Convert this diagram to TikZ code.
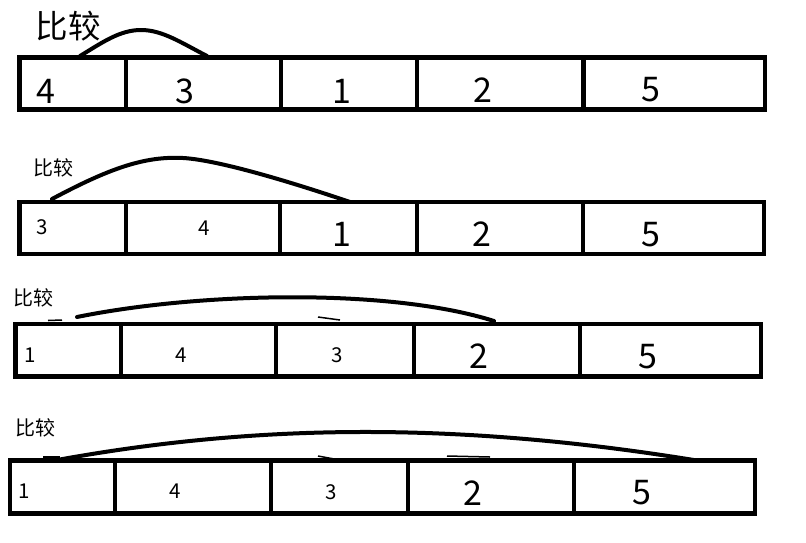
\documentclass[tikz,border=0pt]{standalone}
\usepackage{fontspec}
\newfontfamily\cjkfont{Noto Sans CJK SC}
\usetikzlibrary{positioning}

\begin{document}
\begin{tikzpicture}[
    x=1pt, y=-1pt,
    cell/.style={rectangle, draw=black, line width=4.5pt, inner sep=0pt, outer sep=0pt},
    bignum/.style={inner sep=0pt, font=\cjkfont\fontsize{34}{36}\selectfont},
    smallnum/.style={inner sep=0pt, font=\cjkfont\fontsize{20.5}{22}\selectfont},
    bigcmp/.style={inner sep=0pt, font=\cjkfont\fontsize{32.5}{34}\selectfont},
    smallcmp/.style={inner sep=0pt, font=\cjkfont\fontsize{20}{22}\selectfont},
    arc/.style={line width=4pt, line cap=round},
    stub/.style={line width=1.5pt}
]
\useasboundingbox (0,0) rectangle (806,542);

% row 1
\node[cell, minimum width=106.5pt, minimum height=52pt, anchor=west] (r1c1) at (19.5,83.5) {};
\node[cell, minimum width=155pt, minimum height=52pt, right=0pt of r1c1] (r1c2) {};
\node[cell, minimum width=136pt, minimum height=52pt, right=0pt of r1c2] (r1c3) {};
\node[cell, minimum width=166.5pt, minimum height=52pt, right=0pt of r1c3] (r1c4) {};
\node[cell, minimum width=181.5pt, minimum height=52pt, right=0pt of r1c4] (r1c5) {};
\node[bignum] (r1n1) at (46,91) {4};
\node[bignum] (r1n2) at (185,91) {3};
\node[bignum] (r1n3) at (342,91) {1};
\node[bignum] (r1n4) at (482.5,90) {2};
\node[bignum] (r1n5) at (651,90) {5};
\node[bigcmp] (cmp1) at (68,26) {比较};
\coordinate (a1s) at (80,56);
\coordinate (a1t) at (141,30);
\coordinate (a1e) at (207,56);
\draw[arc] (a1s) .. controls (103,42) and (120,30) .. (a1t)
    .. controls (162,30) and (180,42) .. (a1e);

% row 2
\node[cell, minimum width=106.5pt, minimum height=52pt, anchor=west] (r2c1) at (19.5,228) {};
\node[cell, minimum width=154pt, minimum height=52pt, right=0pt of r2c1] (r2c2) {};
\node[cell, minimum width=137pt, minimum height=52pt, right=0pt of r2c2] (r2c3) {};
\node[cell, minimum width=166pt, minimum height=52pt, right=0pt of r2c3] (r2c4) {};
\node[cell, minimum width=181pt, minimum height=52pt, right=0pt of r2c4] (r2c5) {};
\node[smallnum] (r2n1) at (42,227.5) {3};
\node[smallnum] (r2n2) at (204,228) {4};
\node[bignum] (r2n3) at (342,234.5) {1};
\node[bignum] (r2n4) at (482,234.5) {2};
\node[bignum] (r2n5) at (651,235) {5};
\node[smallcmp] (cmp2) at (54,167.5) {比较};
\coordinate (a2s) at (52,199);
\coordinate (a2t) at (183,158);
\coordinate (a2e) at (350,202);
\draw[arc] (a2s) .. controls (110,168) and (145,156) .. (a2t)
    .. controls (220,160) and (300,185) .. (a2e);

% row 3
\node[cell, minimum width=105.5pt, minimum height=52.5pt, anchor=west] (r3c1) at (15.5,350.25) {};
\node[cell, minimum width=155pt, minimum height=52.5pt, right=0pt of r3c1] (r3c2) {};
\node[cell, minimum width=138pt, minimum height=52.5pt, right=0pt of r3c2] (r3c3) {};
\node[cell, minimum width=166pt, minimum height=52.5pt, right=0pt of r3c3] (r3c4) {};
\node[cell, minimum width=181pt, minimum height=52.5pt, right=0pt of r3c4] (r3c5) {};
\node[smallnum] (r3n1) at (30,355) {1};
\node[smallnum] (r3n2) at (181,355) {4};
\node[smallnum] (r3n3) at (337.5,355) {3};
\node[bignum] (r3n4) at (479,356) {2};
\node[bignum] (r3n5) at (647.5,357) {5};
\node[smallcmp] (cmp3) at (33.5,297.5) {比较};
\coordinate (a3s) at (77,317);
\coordinate (a3e) at (494,321);
\draw[arc] (a3s) .. controls (200,292) and (390,288) .. (a3e);
\draw[stub] (48,320.5) -- (62,320);
\draw[stub] (318,317) -- (340,320);

% row 4
\node[cell, minimum width=105pt, minimum height=53pt, anchor=west] (r4c1) at (10,487) {};
\node[cell, minimum width=156pt, minimum height=53pt, right=0pt of r4c1] (r4c2) {};
\node[cell, minimum width=137pt, minimum height=53pt, right=0pt of r4c2] (r4c3) {};
\node[cell, minimum width=166pt, minimum height=53pt, right=0pt of r4c3] (r4c4) {};
\node[cell, minimum width=181pt, minimum height=53pt, right=0pt of r4c4] (r4c5) {};
\node[smallnum] (r4n1) at (24,491) {1};
\node[smallnum] (r4n2) at (175,491) {4};
\node[smallnum] (r4n3) at (331,492) {3};
\node[bignum] (r4n4) at (473,493) {2};
\node[bignum] (r4n5) at (641.5,493) {5};
\node[smallcmp] (cmp4) at (36,428) {比较};
\coordinate (a4s) at (57,460);
\coordinate (a4e) at (700,461);
\draw[arc] (a4s) .. controls (250,425) and (450,420) .. (a4e);
\draw[stub] (43,457) -- (60,457);
\draw[stub] (318,456) -- (345,461);
\draw[stub] (447,456) -- (490,457);
\end{tikzpicture}
\end{document}
